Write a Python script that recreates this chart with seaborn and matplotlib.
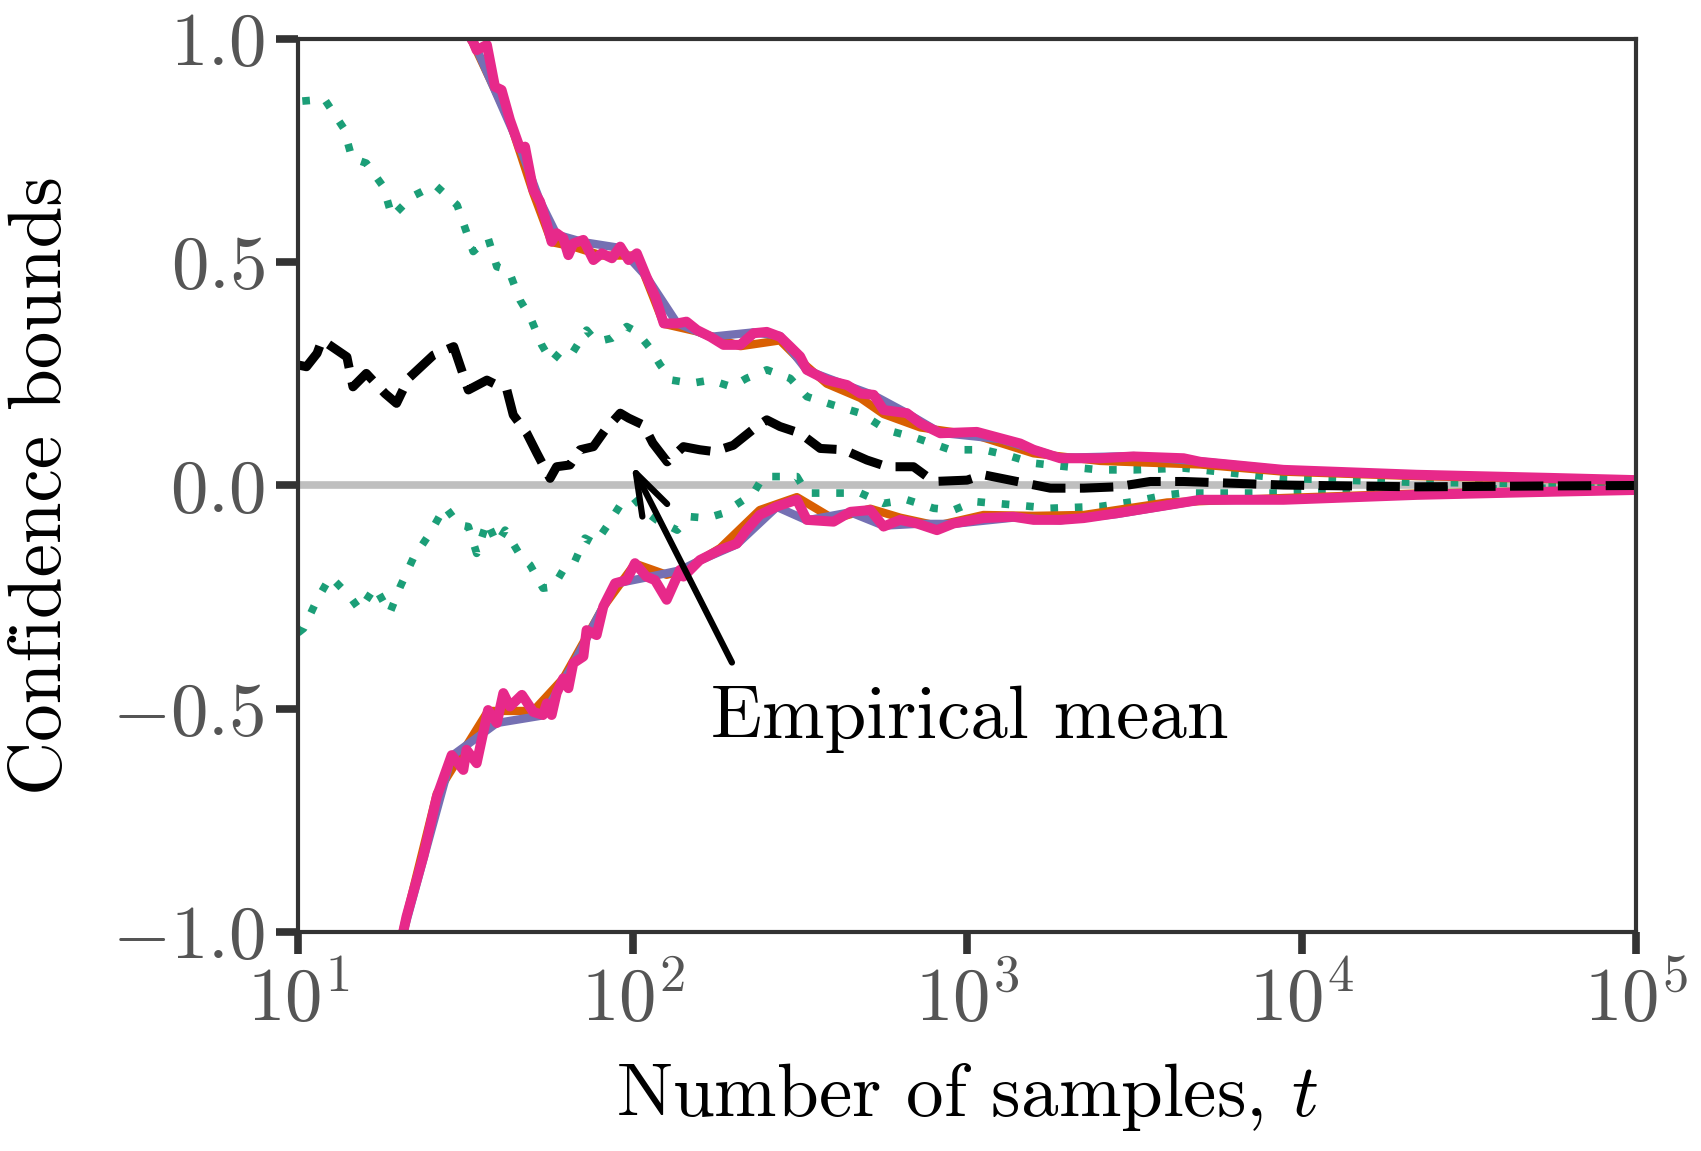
import numpy as np
import seaborn as sns
import matplotlib.pyplot as plt
from matplotlib.ticker import FixedLocator, FixedFormatter, NullLocator

# valores (t, cota)
mag_up_t = [10, 20, 30, 33.4, 34.2, 36.7, 38.8, 40.6, 43, 46.1, 47.7, 50.5, 52.9, 55.4, 57.3, 59.3,
            62.1, 64.3, 66.5, 71.3, 76.4, 80.9, 86.8, 91.9, 97.3, 103, 110, 117, 124, 136, 145, 156,
            171, 187, 210, 230, 252, 276, 296, 317, 332, 381, 438, 480, 526, 563, 661, 725, 832,
            1070, 1256, 1442, 1581, 1900, 2501, 3150, 4440, 4980, 8830, 22100, 55300, 100000]
mag_up = [1.8, 1.3, 1.05, 0.994, 0.975, 0.987, 0.893, 0.886, 0.819, 0.755, 0.759, 0.662, 0.636,
          0.587, 0.546, 0.565, 0.554, 0.516, 0.542, 0.55, 0.505, 0.52, 0.509, 0.535, 0.505, 0.52,
          0.468, 0.423, 0.363, 0.363, 0.367, 0.348, 0.333, 0.315, 0.315, 0.341, 0.344, 0.333, 0.311,
          0.289, 0.259, 0.236, 0.225, 0.206, 0.203, 0.169, 0.162, 0.139, 0.117, 0.12, 0.106, 0.094,
          0.08, 0.061, 0.061, 0.065, 0.061, 0.053, 0.035, 0.024, 0.017, 0.012]

mag_lo_t = [10, 15, 20.7, 21.1, 23.7, 26, 28.8, 31.2, 31.9, 34.2, 37, 39.3, 41.1, 43, 46.7, 50.5,
            54, 55.4, 57.3, 59.3, 62.1, 64.3, 66.5, 71.3, 72.9, 78.1, 81.8, 88.7, 96.1, 101.7, 110,
            116.7, 126.5, 138.7, 142, 159, 183, 205, 219, 240, 270, 310, 332, 399, 448, 514, 563,
            631, 708, 813, 912, 1120, 1376, 1581, 1900, 2233, 2808, 3965, 4980, 8830, 22100, 55300,
            100000]
mag_lo = [-2.0, -1.4, -0.995, -0.966, -0.83, -0.697, -0.604, -0.637, -0.592, -0.622, -0.503, -0.532,
          -0.465, -0.495, -0.469, -0.507, -0.514, -0.488, -0.514, -0.465, -0.432, -0.454, -0.398,
          -0.383, -0.324, -0.335, -0.271, -0.219, -0.212, -0.174, -0.204, -0.212, -0.256, -0.189,
          -0.204, -0.167, -0.144, -0.13, -0.1, -0.066, -0.047, -0.032, -0.077, -0.081, -0.059,
          -0.055, -0.092, -0.077, -0.085, -0.1, -0.085, -0.073, -0.07, -0.077, -0.077, -0.073,
          -0.062, -0.044, -0.032, -0.032, -0.021, -0.014, -0.01]

org_up_t = [10, 30, 33.4, 43, 50.5, 57.3, 66.5, 80.9, 103, 124, 156, 210, 276, 317, 381, 480, 563,
            725, 1070, 1581, 2501, 4980, 8830, 22100, 100000]
org_up = [1.8, 1.05, 0.99, 0.815, 0.655, 0.545, 0.535, 0.515, 0.515, 0.362, 0.345, 0.312, 0.325,
          0.28, 0.228, 0.196, 0.16, 0.13, 0.112, 0.072, 0.055, 0.047, 0.031, 0.021, 0.01]
org_lo_t = [10, 20.7, 26, 37, 50.5, 62.1, 81.8, 101.7, 126.5, 142, 183, 240, 310, 399, 514, 631,
            813, 1120, 1581, 2233, 3965, 8830, 22100, 100000]
org_lo = [-2.0, -0.99, -0.69, -0.505, -0.505, -0.432, -0.272, -0.175, -0.2, -0.19, -0.14, -0.055,
          -0.026, -0.075, -0.052, -0.072, -0.09, -0.066, -0.068, -0.066, -0.038, -0.028, -0.018,
          -0.009]

pur_up_t = [10, 30, 34.2, 46.1, 52.9, 59.3, 71.3, 91.9, 110, 136, 171, 230, 276, 332, 438, 526,
            661, 832, 1256, 1900, 3150, 4980, 8830, 22100, 100000]
pur_up = [1.8, 1.05, 0.978, 0.757, 0.637, 0.562, 0.545, 0.532, 0.468, 0.363, 0.333, 0.343, 0.335,
          0.258, 0.224, 0.202, 0.162, 0.118, 0.104, 0.062, 0.066, 0.054, 0.035, 0.024, 0.012]
pur_lo_t = [10, 20.7, 28.8, 39.3, 54, 66.5, 88.7, 110, 138.7, 159, 205, 270, 332, 448, 563, 708,
            912, 1376, 1900, 2808, 4980, 8830, 22100, 100000]
pur_lo = [-2.0, -0.998, -0.606, -0.532, -0.515, -0.4, -0.22, -0.206, -0.19, -0.168, -0.132, -0.048,
          -0.078, -0.06, -0.09, -0.086, -0.086, -0.072, -0.078, -0.064, -0.033, -0.032, -0.021, -0.01]

grn_up_t = [10.3, 12, 13.7, 14.5, 16, 18, 19.1, 21.9, 25.7, 29.9, 31.6, 33.4, 37, 39.3, 42.6, 46.1,
            49.4, 53.5, 57.3, 62.1, 66.5, 72.9, 78.1, 86.8, 96.1, 103, 113, 121, 131, 150, 171, 198,
            219, 252, 296, 332, 399, 480, 577, 708, 891, 1120, 1316, 1581, 1990, 2501, 3150, 4440,
            8830, 22100, 55300, 100000]
grn_up = [0.861, 0.865, 0.8, 0.733, 0.722, 0.669, 0.602, 0.647, 0.673, 0.628, 0.576, 0.524, 0.554,
          0.49, 0.483, 0.415, 0.378, 0.315, 0.277, 0.307, 0.3, 0.348, 0.322, 0.33, 0.356, 0.344,
          0.307, 0.27, 0.236, 0.229, 0.236, 0.221, 0.24, 0.259, 0.24, 0.199, 0.18, 0.162, 0.124,
          0.106, 0.08, 0.08, 0.068, 0.05, 0.042, 0.035, 0.035, 0.039, 0.016, 0.007, 0.004, 0.004]

grn_lo_t = [10, 10.4, 11.4, 12.5, 14.3, 15.3, 17, 18.8, 20.2, 22.1, 24.8, 27.5, 30.2, 32.3, 34.2,
            36.7, 39.3, 41.6, 46.1, 49.4, 54, 58, 62.1, 66.5, 72.1, 77.3, 83.7, 91.9, 101, 108, 118,
            136, 149, 167, 187, 215, 230, 246, 270, 310, 332, 399, 480, 563, 661, 795, 912, 1050,
            1409, 1774, 2501, 3150, 3965, 4440, 8830, 22100, 55300, 100000]
grn_lo = [-0.33, -0.32, -0.256, -0.204, -0.249, -0.279, -0.227, -0.286, -0.227, -0.163, -0.107,
          -0.047, -0.088, -0.092, -0.152, -0.081, -0.13, -0.1, -0.156, -0.178, -0.23, -0.227,
          -0.189, -0.178, -0.118, -0.13, -0.092, -0.044, -0.029, -0.055, -0.077, -0.1, -0.07,
          -0.073, -0.062, -0.032, -0.017, 0.02, 0.02, 0.02, -0.017, -0.017, -0.017, -0.04, -0.032,
          -0.051, -0.055, -0.036, -0.044, -0.051, -0.047, -0.036, -0.021, -0.017, -0.017, -0.01,
          -0.006, -0.005]

mean_t = [10, 10.6, 11.4, 11.8, 14, 14.6, 16, 18.2, 19.7, 21.4, 25.4, 29.2, 32.3, 36.7, 42.1, 44,
          48.3, 51.8, 56.7, 59.3, 65, 69.7, 76.4, 82.8, 91.9, 97.3, 108, 115, 127, 142, 159, 175,
          200, 235, 252, 276, 317, 364, 428, 502, 577, 692, 795, 1000, 1120, 1409, 1774, 2233,
          2808, 3530, 4440, 8830, 22100, 55300, 100000]
mean = [0.27, 0.266, 0.296, 0.326, 0.288, 0.221, 0.251, 0.206, 0.184, 0.24, 0.292, 0.311, 0.214,
        0.236, 0.214, 0.158, 0.117, 0.072, 0.016, 0.042, 0.046, 0.08, 0.087, 0.124, 0.162, 0.151,
        0.135, 0.095, 0.053, 0.087, 0.08, 0.076, 0.09, 0.132, 0.147, 0.132, 0.117, 0.083, 0.08,
        0.057, 0.042, 0.042, 0.009, 0.012, 0.024, 0.009, -0.006, -0.006, -0.003, 0.009, 0.009,
        0.001, -0.003, -0.001, 0.0]

x_ticks = [10, 100, 1000, 10000, 100000]
x_labels = [r'$10^{1}$', r'$10^{2}$', r'$10^{3}$', r'$10^{4}$', r'$10^{5}$']
y_ticks = [-1.0, -0.5, 0.0, 0.5, 1.0]
y_labels = [r'$-1.0$', r'$-0.5$', r'$0.0$', r'$0.5$', r'$1.0$']

sns.set_theme(style='ticks')
plt.rcParams['font.family'] = ['cmr10']
plt.rcParams['mathtext.fontset'] = 'cm'
plt.rcParams['axes.unicode_minus'] = False

pal = sns.color_palette('Dark2')  # verde, naranja, morado, magenta
FS = 54

fig = plt.figure(figsize=(17.01, 11.51), dpi=100)
ax = fig.add_axes([0.1752, 0.1903, 0.7866, 0.7758])

ax.axhline(0, color='#bfbfbf', lw=5.5, zorder=1)

kw = dict(estimator=None, sort=False, ax=ax)
dots = (0, (1, 2.2))
sns.lineplot(x=grn_up_t, y=grn_up, color=pal[0], lw=5.5, linestyle=dots, **kw)
sns.lineplot(x=grn_lo_t, y=grn_lo, color=pal[0], lw=5.5, linestyle=dots, **kw)
sns.lineplot(x=org_up_t, y=org_up, color=pal[1], lw=6, **kw)
sns.lineplot(x=org_lo_t, y=org_lo, color=pal[1], lw=6, **kw)
sns.lineplot(x=pur_up_t, y=pur_up, color=pal[2], lw=6, **kw)
sns.lineplot(x=pur_lo_t, y=pur_lo, color=pal[2], lw=6, **kw)
sns.lineplot(x=mag_up_t, y=mag_up, color=pal[3], lw=7.2, **kw)
sns.lineplot(x=mag_lo_t, y=mag_lo, color=pal[3], lw=7.2, **kw)
sns.lineplot(x=mean_t, y=mean, color='black', lw=6.5, linestyle='--', **kw)

ax.set_xscale('log')
ax.set_xlim(10, 1e5)
ax.set_ylim(-1, 1)
ax.xaxis.set_major_locator(FixedLocator(x_ticks))
ax.xaxis.set_major_formatter(FixedFormatter(x_labels))
ax.xaxis.set_minor_locator(NullLocator())
ax.yaxis.set_major_locator(FixedLocator(y_ticks))
ax.yaxis.set_major_formatter(FixedFormatter(y_labels))

for s in ax.spines.values():
    s.set_color('#333333')
    s.set_linewidth(3)
ax.tick_params(axis='both', length=16, width=5.5, color='#333333', labelcolor='#555555',
               labelsize=FS, pad=8)

ax.set_xlabel(r'Number of samples, $t$', fontsize=FS, color='black', labelpad=18)
ax.set_ylabel('Confidence bounds', fontsize=FS, color='black', labelpad=26)

ax.annotate('', xy=(98.4, 0.053), xytext=(200, -0.402),
            arrowprops=dict(arrowstyle='->, head_length=0.6, head_width=0.2',
                            mutation_scale=50, lw=4.5, color='black'))
ax.text(172, -0.5655, 'Empirical mean', fontsize=FS, color='black', ha='left', va='baseline')

fig.savefig('out.png', dpi=100)
